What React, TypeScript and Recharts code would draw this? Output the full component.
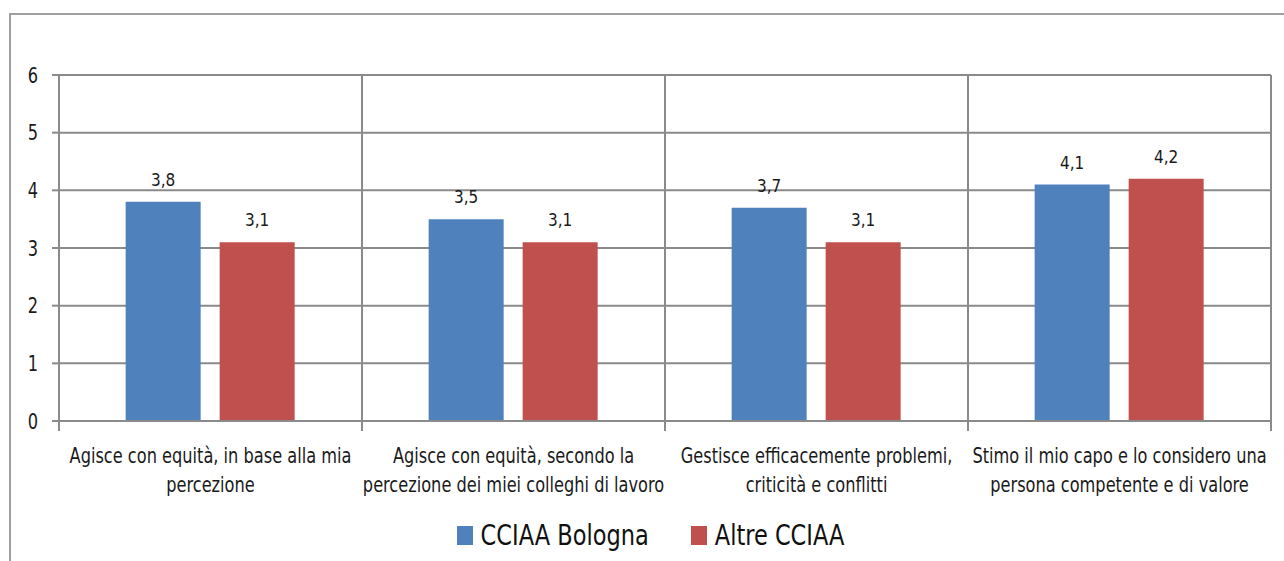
import React from 'react';
import { BarChart, Bar, XAxis, YAxis, CartesianGrid, Legend, LabelList } from 'recharts';

// categories (each split on the same line break as the original)
const categories = [
  ['Agisce con equità, in base alla mia', 'percezione'],
  ['Agisce con equità, secondo la', 'percezione dei miei colleghi di lavoro'],
  ['Gestisce efficacemente problemi,', 'criticità e conflitti'],
  ['Stimo il mio capo e lo considero una', 'persona competente e di valore'],
];

const bologna = [3.8, 3.5, 3.7, 4.1];
const altre = [3.1, 3.1, 3.1, 4.2];

const seriesNames = ['CCIAA Bologna', 'Altre CCIAA'];
const yTicks = [0, 1, 2, 3, 4, 5, 6];

const data = categories.map((lines, i) => ({
  name: lines.join(' '),
  lines,
  bologna: bologna[i],
  altre: altre[i],
}));

const W = 1284;
const H = 561;
const FONT = '"Liberation Sans Narrow", "DejaVu Sans Condensed", "Liberation Sans", sans-serif';
const GRID = '#8a8a8a';
const BLUE = '#4F81BD';
const RED = '#C0504D';
const INK = '#1a1a1a';

const MARGIN = { top: 75, right: 13, left: 0, bottom: 0 };
const Y_W = 59;
const PLOT_W = W - MARGIN.left - MARGIN.right - Y_W;
const BAND = PLOT_W / categories.length;

const fmt = (v: number) => v.toFixed(1).replace('.', ',');

// text drawn a little taller than wide, like the original's condensed face
const Tall = ({ x, y, size, sy, anchor = 'middle', children }: any) => (
  <text transform={`translate(${x} ${y}) scale(1 ${sy})`} textAnchor={anchor} fill={INK}
    fontSize={size} fontFamily={FONT}>
    {children}
  </text>
);

const CategoryTick = (props: any) => {
  const { x, y, payload, index } = props;
  const item = data[index] || data.find(d => d.name === payload.value);
  const left = x - BAND / 2;
  return (
    <g>
      <line x1={left} x2={left} y1={y - 8} y2={y + 2} stroke={GRID} strokeWidth={2} />
      {index === categories.length - 1 && (
        <line x1={left + BAND} x2={left + BAND} y1={y - 8} y2={y + 2} stroke={GRID} strokeWidth={2} />
      )}
      {item && item.lines.map((line: string, i: number) => (
        <Tall key={i} x={x} y={y + 34 + i * 29} size={18} sy={1.2}>{line}</Tall>
      ))}
    </g>
  );
};

const ValueTick = (props: any) => {
  const { x, y, payload } = props;
  return <Tall x={x} y={y + 7.5} size={18} sy={1.15} anchor="end">{payload.value}</Tall>;
};

const ValueLabel = (props: any) => {
  const { x, y, width, value } = props;
  return <Tall x={x + width / 2} y={y - 16} size={17} sy={1.05}>{fmt(value)}</Tall>;
};

const LegendBox = () => (
  <div style={{ display: 'flex', justifyContent: 'center', alignItems: 'center', paddingLeft: 30, paddingTop: 10, fontFamily: FONT, fontSize: 25, color: '#111' }}>
    {seriesNames.map((n, i) => (
      <div key={n} style={{ display: 'flex', alignItems: 'center', marginRight: i === 0 ? 42 : 0 }}>
        <span style={{ display: 'inline-block', width: 16, height: 19, background: i === 0 ? BLUE : RED, marginRight: 8 }} />
        <span style={{ display: 'inline-block', transform: 'scaleY(1.12)' }}>{n}</span>
      </div>
    ))}
  </div>
);

const App: React.FC = () => {
  return (
    <div style={{ position: 'absolute', left: 0, top: 0, width: W, height: H, background: '#fff', overflow: 'hidden' }}>
      {/* outer chart frame */}
      <div style={{ position: 'absolute', left: 9, top: 13, width: W, height: H, borderTop: '2px solid #a0a0a0', borderLeft: '2px solid #a0a0a0' }} />
      <BarChart width={W} height={H} data={data} margin={MARGIN} barCategoryGap="22%" barGap={19}>
        <CartesianGrid
          stroke={GRID}
          strokeWidth={2}
          horizontalValues={yTicks}
          verticalCoordinatesGenerator={({ offset }: any) =>
            categories.map((_, i) => offset.left + (offset.width * (i + 1)) / categories.length)
          }
        />
        <XAxis
          dataKey="name"
          height={90}
          interval={0}
          axisLine={{ stroke: GRID, strokeWidth: 2 }}
          tickLine={false}
          tick={<CategoryTick />}
        />
        <YAxis
          width={Y_W}
          domain={[0, 6]}
          ticks={yTicks}
          interval={0}
          axisLine={{ stroke: GRID, strokeWidth: 2 }}
          tickLine={{ stroke: GRID, strokeWidth: 2 }}
          tickSize={7}
          tickMargin={14}
          tick={<ValueTick />}
        />
        <Legend verticalAlign="bottom" height={50} content={<LegendBox />} />
        <Bar dataKey="bologna" name={seriesNames[0]} fill={BLUE} isAnimationActive={false}>
          <LabelList dataKey="bologna" content={<ValueLabel />} />
        </Bar>
        <Bar dataKey="altre" name={seriesNames[1]} fill={RED} isAnimationActive={false}>
          <LabelList dataKey="altre" content={<ValueLabel />} />
        </Bar>
      </BarChart>
    </div>
  );
};

export default App;
